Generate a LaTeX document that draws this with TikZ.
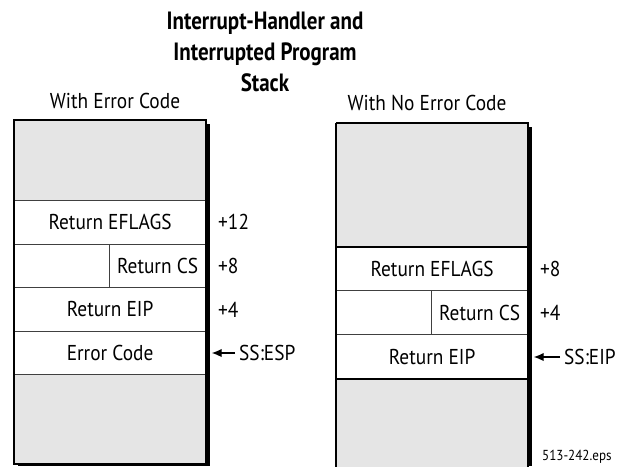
\documentclass[tikz,border=0pt]{standalone}
\usepackage{fontspec}
\setmainfont{PT Sans}[FakeStretch=0.9]
\newfontfamily\titlefont{PT Sans}[FakeStretch=0.84]
\usetikzlibrary{arrows.meta}
\definecolor{stackgray}{HTML}{E5E5E5}
\tikzset{
  cell/.style={draw=black!75, line width=1.2pt, inner sep=0pt, anchor=north west,
    font=\fontsize{21.5}{24}\selectfont},
  graycell/.style={cell, fill=stackgray},
  border/.style={draw=black, line width=2.4pt},
  shadow/.style={fill=black, draw=none},
  lbl/.style={font=\fontsize{21.5}{24}\selectfont, inner sep=0pt, anchor=west},
  ptr/.style={line width=1.4pt, -{Latex[length=10pt,width=8.5pt]}, shorten <=4pt},
}
\begin{document}
\begin{tikzpicture}[x=1pt,y=-1pt]
\useasboundingbox (0,0) rectangle (618,466);
% title
\node[font=\titlefont\bfseries\fontsize{25}{31}\selectfont, align=center, inner sep=0pt] (title) at (265,52)
  {Interrupt-Handler and\\Interrupted Program\\Stack};
\node[font=\fontsize{21.5}{24}\selectfont, inner sep=0pt] (capL) at (115,101) {With Error Code};
\node[font=\fontsize{21.5}{24}\selectfont, inner sep=0pt] (capR) at (427,103) {With No Error Code};

% left stack shadow
\fill[shadow] (205,124) rectangle (209.5,466);
\fill[shadow] (18,462) rectangle (209.5,466);
% left stack
\node[graycell, minimum width=191pt, minimum height=80pt] (Ltop) at (14,120) {};
\node[cell, minimum width=191pt, minimum height=43.5pt] (Lefl) at (14,200) {Return EFLAGS};
\node[cell, minimum width=95pt, minimum height=43.5pt] (Lpad) at (14,243.5) {};
\node[cell, minimum width=96pt, minimum height=43.5pt] (Lcs) at (109,243.5) {Return CS};
\node[cell, minimum width=191pt, minimum height=43.5pt] (Leip) at (14,287) {Return EIP};
\node[cell, minimum width=191pt, minimum height=43pt] (Lerr) at (14,330.5) {Error Code};
\node[graycell, minimum width=191pt, minimum height=89.5pt] (Lbot) at (14,373.5) {};
\draw[border] (Ltop.north west) rectangle (Lbot.south east);

% right stack shadow
\fill[shadow] (527,127) rectangle (531.5,466);
% right stack
\node[graycell, minimum width=191pt, minimum height=123pt] (Rtop) at (336,123) {};
\node[cell, minimum width=191pt, minimum height=44pt] (Refl) at (336,246) {Return EFLAGS};
\node[cell, minimum width=95pt, minimum height=44pt] (Rpad) at (336,290) {};
\node[cell, minimum width=96pt, minimum height=44pt] (Rcs) at (431,290) {Return CS};
\node[cell, minimum width=191pt, minimum height=44pt] (Reip) at (336,334) {Return EIP};
\node[graycell, minimum width=191pt, minimum height=90pt] (Rbot) at (336,378) {};
\draw[border] (Rtop.north west) -- (Rtop.north east) -- (Rbot.south east |- 0,468);
\draw[border] (Rtop.north west) -- (Rbot.south west |- 0,468);
\draw[border] (Reip.south west) -- (Reip.south east);
\draw[border] (Rtop.south west) -- (Rtop.south east);

% offsets left
\node[lbl] (o12) at (218,222) {+12};
\node[lbl] (o8L) at (218,266) {+8};
\node[lbl] (o4L) at (218,310) {+4};
\node[lbl] (esp) at (239,353) {SS:ESP};
\draw[ptr] (esp.west) -- ([xshift=5.5pt]Lerr.east |- esp.west);

% offsets right
\node[lbl] (o8R) at (540,269) {+8};
\node[lbl] (o4R) at (540,313) {+4};
\node[lbl] (eip) at (564,357) {SS:EIP};
\draw[ptr] (eip.west) -- ([xshift=5.5pt]Reip.east |- eip.west);

\node[font=\fontsize{14.5}{16}\selectfont, inner sep=0pt, anchor=west] (fn) at (542,457) {513-242.eps};
\end{tikzpicture}
\end{document}
